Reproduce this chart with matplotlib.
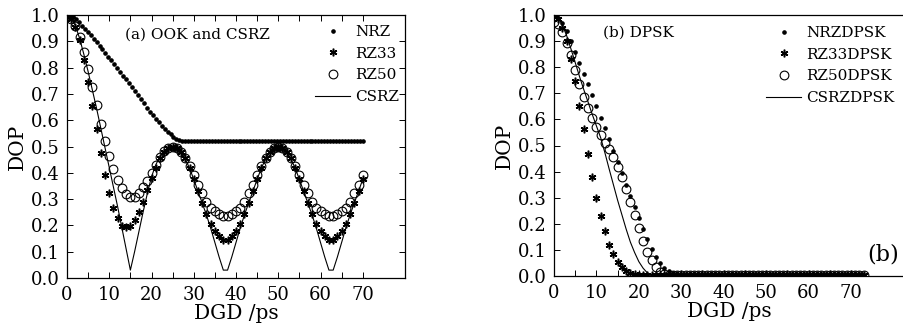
import numpy as np
import matplotlib
matplotlib.use("Agg")
from matplotlib import pyplot as plt

plt.rcParams['font.family'] = 'DejaVu Serif'

# ---- (a) OOK and CSRZ ----
dgd_nrz = np.round(np.arange(101) * 0.7, 1)
nrz = [1.0, 0.997, 0.991, 0.984, 0.972, 0.96, 0.948, 0.936, 0.923, 0.91,
       0.897, 0.884, 0.87, 0.856, 0.841, 0.827, 0.812, 0.798, 0.784, 0.769,
       0.755, 0.74, 0.726, 0.711, 0.696, 0.68, 0.664, 0.648, 0.633, 0.619,
       0.605, 0.592, 0.579, 0.567, 0.556, 0.546, 0.537, 0.53, 0.524, 0.521,
       0.52] + [0.52] * 60

dgd_a = np.arange(71)
rz33 = [1.0, 0.985, 0.955, 0.905, 0.83, 0.745, 0.655, 0.565, 0.475, 0.39,
        0.322, 0.265, 0.227, 0.198, 0.193, 0.198, 0.22, 0.252, 0.288, 0.335,
        0.38, 0.42, 0.455, 0.48, 0.495, 0.5,
        0.495, 0.48, 0.455, 0.42, 0.375, 0.33, 0.285, 0.245, 0.205, 0.178,
        0.158, 0.145, 0.145, 0.158, 0.178, 0.205, 0.245, 0.285, 0.33, 0.375,
        0.42, 0.455, 0.48, 0.495, 0.5,
        0.495, 0.48, 0.455, 0.42, 0.375, 0.33, 0.285, 0.245, 0.205, 0.178,
        0.158, 0.145, 0.145, 0.158, 0.178, 0.205, 0.245, 0.285, 0.33, 0.375]
rz50 = [1.0, 0.985, 0.958, 0.918, 0.86, 0.795, 0.727, 0.656, 0.586, 0.52,
        0.464, 0.415, 0.371, 0.341, 0.318, 0.309, 0.309, 0.324, 0.345, 0.37,
        0.4, 0.43, 0.46, 0.482, 0.495, 0.5,
        0.495, 0.48, 0.455, 0.425, 0.39, 0.355, 0.322, 0.29, 0.268, 0.253,
        0.243, 0.237, 0.237, 0.243, 0.253, 0.268, 0.29, 0.322, 0.355, 0.39,
        0.425, 0.455, 0.48, 0.495, 0.5,
        0.495, 0.48, 0.455, 0.425, 0.39, 0.355, 0.322, 0.29, 0.268, 0.253,
        0.243, 0.237, 0.237, 0.243, 0.253, 0.268, 0.29, 0.322, 0.355, 0.39]
csrz = [1.0, 0.985, 0.96, 0.91, 0.85, 0.785, 0.715, 0.645, 0.57, 0.495,
        0.42, 0.345, 0.27, 0.19, 0.11, 0.03, 0.1, 0.175, 0.25, 0.32,
        0.385, 0.43, 0.462, 0.484, 0.496, 0.5,
        0.496, 0.48, 0.452, 0.418, 0.375, 0.33, 0.285, 0.24, 0.19, 0.135,
        0.08, 0.03, 0.03, 0.08, 0.135, 0.19, 0.24, 0.285, 0.33, 0.375,
        0.418, 0.452, 0.48, 0.496, 0.5,
        0.496, 0.48, 0.452, 0.418, 0.375, 0.33, 0.285, 0.24, 0.19, 0.135,
        0.08, 0.03, 0.03, 0.08, 0.135, 0.19, 0.24, 0.285, 0.33, 0.375]

# ---- (b) DPSK ----
dgd_b = np.arange(74)
nrz_dpsk = [1.0, 0.99, 0.97, 0.94, 0.9, 0.86, 0.818, 0.775, 0.735, 0.692,
            0.65, 0.606, 0.566, 0.523, 0.48, 0.436, 0.393, 0.35, 0.306, 0.264,
            0.222, 0.18, 0.142, 0.105, 0.072, 0.05, 0.032, 0.018, 0.01, 0.007] + [0.005] * 44
rz33_dpsk = [1.0, 0.985, 0.95, 0.9, 0.83, 0.748, 0.652, 0.562, 0.468, 0.38,
             0.298, 0.23, 0.172, 0.119, 0.084, 0.055, 0.036, 0.02, 0.011, 0.007] + [0.005] * 54
rz50_dpsk = [0.975, 0.964, 0.936, 0.894, 0.847, 0.789, 0.736, 0.685, 0.642, 0.604,
             0.572, 0.54, 0.511, 0.487, 0.455, 0.419, 0.378, 0.332, 0.285, 0.234,
             0.183, 0.135, 0.091, 0.061, 0.036, 0.017, 0.008] + [0.005] * 47
csrz_dpsk = [1.0, 0.99, 0.96, 0.92, 0.87, 0.818, 0.765, 0.715, 0.668, 0.62,
             0.575, 0.53, 0.472, 0.41, 0.35, 0.29, 0.235, 0.18, 0.13, 0.09,
             0.055, 0.03, 0.012, 0.005, 0.003] + [0.003] * 49

yticks = np.round(np.arange(0, 1.01, 0.1), 1)

fig = plt.figure(figsize=(9.04, 3.28), dpi=100)
ax1 = fig.add_axes([67 / 904, 50 / 328, 338 / 904, 263 / 328])
ax2 = fig.add_axes([554 / 904, 52 / 328, 350 / 904, 261 / 328])


def style(ax, xmax, box):
    ax.set_xlim(0, xmax)
    ax.set_ylim(0, 1.0)
    ax.set_xticks(range(0, 71, 10))
    ax.set_xticks(range(5, 71, 10), minor=True)
    ax.set_yticks(yticks)
    ax.set_yticklabels(["%.1f" % v for v in yticks])
    ax.tick_params(which='both', direction='in', length=4, width=0.7,
                   labelsize=13, top=box, right=box)
    ax.tick_params(axis='x', pad=6)
    ax.tick_params(axis='y', pad=5)
    for s in ax.spines.values():
        s.set_linewidth(0.9)
    ax.set_xlabel("DGD /ps", fontsize=14.5, labelpad=0)
    ax.set_ylabel("DOP", fontsize=14.5, labelpad=3)


star = (6, 2, 0)
ax1.plot(dgd_nrz, nrz, ls='none', marker='o', ms=2.3, color='black', label='NRZ')
ax1.plot(dgd_a, rz33, ls='none', marker=star, ms=5.5, mew=1.1, color='black', label='RZ33')
ax1.plot(dgd_a, rz50, ls='none', marker='o', ms=6.3, mew=0.8, mfc='none', mec='black', label='RZ50')
ax1.plot(dgd_a, csrz, color='black', lw=0.8, label='CSRZ')
style(ax1, 80, True)
ax1.text(13.7, 0.924, "(a) OOK and CSRZ", fontsize=11, va='center')
ax1.legend(loc='upper left', bbox_to_anchor=(0.734, 0.962), frameon=False, fontsize=11,
           handlelength=2.3, handletextpad=0.3, labelspacing=0.5, borderpad=0, borderaxespad=0)

ax2.plot(dgd_b, nrz_dpsk, ls='none', marker='o', ms=2.3, color='black', label='NRZDPSK')
ax2.plot(dgd_b, rz33_dpsk, ls='none', marker=star, ms=5.5, mew=1.1, color='black', label='RZ33DPSK')
ax2.plot(dgd_b, rz50_dpsk, ls='none', marker='o', ms=6.3, mew=0.8, mfc='none', mec='black', label='RZ50DPSK')
ax2.plot(dgd_b, csrz_dpsk, color='black', lw=0.8, label='CSRZDPSK')
style(ax2, 82.5, False)
ax2.spines['right'].set_visible(False)
ax2.text(11.6, 0.931, "(b) DPSK", fontsize=11, va='center')
ax2.text(73.8, 0.084, "(b)", fontsize=16, va='center')
ax2.legend(loc='upper left', bbox_to_anchor=(0.606, 0.958), frameon=False, fontsize=11,
           handlelength=2.3, handletextpad=0.3, labelspacing=0.5, borderpad=0, borderaxespad=0)

fig.savefig("out.png", dpi=100)
